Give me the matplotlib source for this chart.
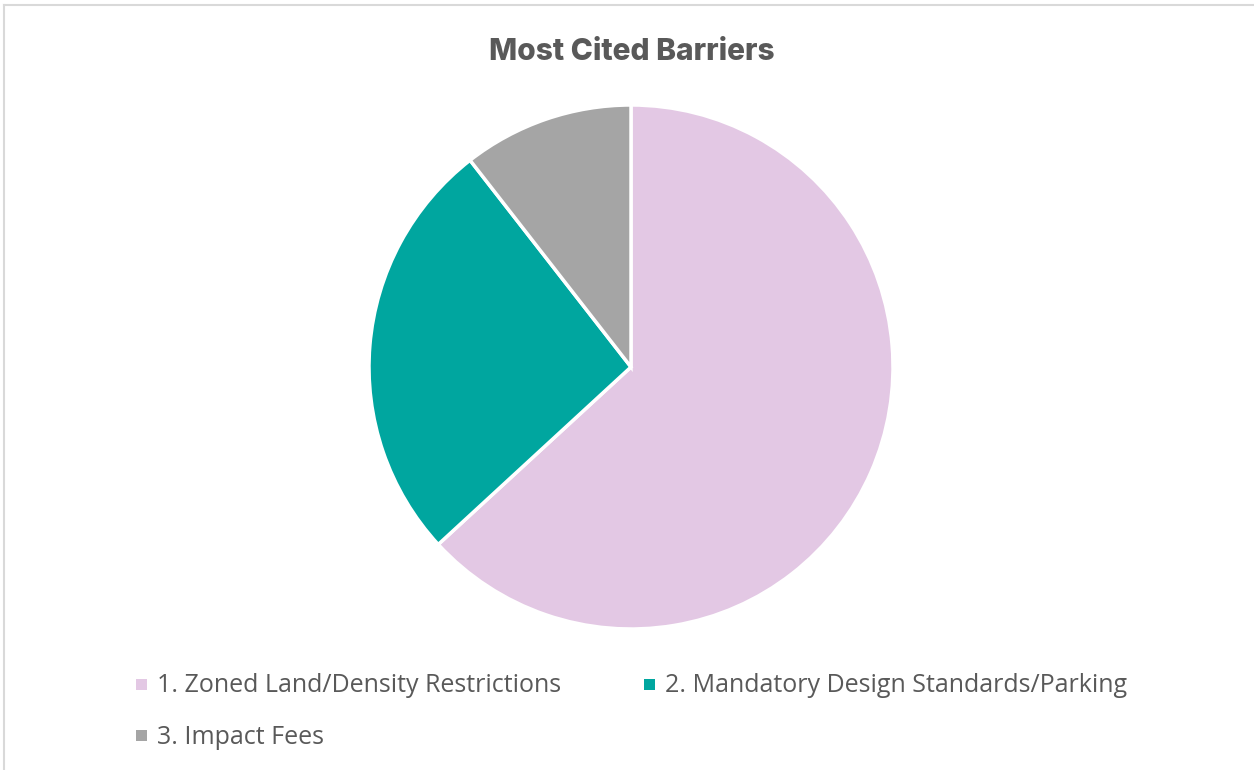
import matplotlib
matplotlib.use("Agg")
import matplotlib.pyplot as plt
from matplotlib.patches import Rectangle
from matplotlib.lines import Line2D

labels = ["1. Zoned Land/Density Restrictions",
          "2. Mandatory Design Standards/Parking",
          "3. Impact Fees"]
values = [12, 5, 2]
colors = ["#E3C8E4", "#00A69F", "#A5A5A5"]
title = "Most Cited Barriers"

W, H = 1254, 770
fig = plt.figure(figsize=(W / 100, H / 100), dpi=100)
fig.patch.set_facecolor("white")

# chart frame (top and left visible)
fig.add_artist(Line2D([4 / W, 4 / W], [0, 1 - 5 / H], transform=fig.transFigure,
                      color="#D9D9D9", lw=1.5))
fig.add_artist(Line2D([4 / W, 1], [1 - 5 / H, 1 - 5 / H], transform=fig.transFigure,
                      color="#D9D9D9", lw=1.5))

cx, cy, r = 631, 367, 262
ax = fig.add_axes([(cx - r) / W, (H - cy - r) / H, 2 * r / W, 2 * r / H])
ax.pie(values, colors=colors, startangle=90, counterclock=False,
       wedgeprops=dict(edgecolor="white", linewidth=2.5))
ax.set_xlim(-1, 1)
ax.set_ylim(-1, 1)
ax.set_aspect("auto")
ax.axis("off")

fig.text(632 / W, 1 - 52 / H, title, ha="center", va="center",
         fontsize=21.5, fontweight="heavy", color="#595959", family="Inter")

pos = [(136, 684), (644, 684), (136, 735)]
for (x, y), lab, col in zip(pos, labels, colors):
    s = 11
    fig.add_artist(Rectangle((x / W, (H - y - s / 2) / H), s / W, s / H,
                             transform=fig.transFigure, facecolor=col, edgecolor="none"))
    fig.text((x + 21) / W, 1 - (y + 2) / H, lab, ha="left", va="center",
             fontsize=18, color="#595959", family="Open Sans")

fig.savefig("out.png", dpi=100)
